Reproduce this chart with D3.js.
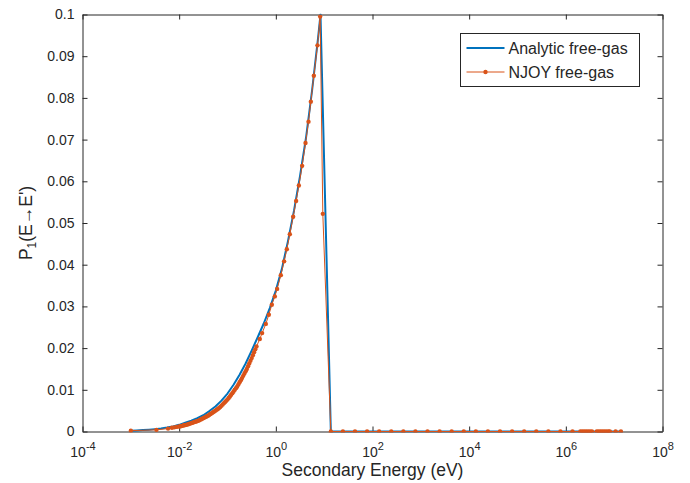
<!DOCTYPE html>
<html>
<head>
<meta charset="utf-8">
<script src="https://cdn.jsdelivr.net/npm/d3@7"></script>
<style>
  body { margin: 0; background: #fff; }
  text { font-family: "Liberation Sans", Arial, Helvetica, sans-serif; fill: #262626; }
  .axis path, .axis line { stroke: #262626; stroke-width: 1; }
</style>
</head>
<body>
<div id="chartDiv"></div>
<script>
// Data
const analyticE = [1.0e-3, 1.334e-3, 1.778e-3, 2.371e-3, 3.162e-3, 4.217e-3, 5.623e-3, 7.499e-3,
  0.01, 0.01334, 0.01778, 0.02371, 0.03162, 0.04217, 0.05623, 0.07499,
  0.1, 0.1334, 0.1778, 0.2371, 0.3162, 0.4217, 0.5623, 0.7499,
  1.0, 1.334, 1.778, 2.371, 3.162, 4.217, 5.623, 7.499, 8.395, 13.74, 1.5e7];
const analyticP = [0.0002, 0.00026, 0.00034, 0.00044, 0.00057, 0.00073, 0.00094, 0.0012,
  0.0016, 0.0021, 0.0026, 0.0032, 0.0039, 0.0049, 0.0060, 0.0074,
  0.0091, 0.0112, 0.0136, 0.0163, 0.0194, 0.0226, 0.0259, 0.0296,
  0.0338, 0.0390, 0.0456, 0.0529, 0.0612, 0.0705, 0.0818, 0.0945, 0.1000, 0, 0];

const njoyE = [1.0e-3, 3.39e-3, 5.89e-3, 7.08e-3, 7.94e-3, 8.91e-3,
  0.01000, 0.01059, 0.01122, 0.01189, 0.01259, 0.01334, 0.01413, 0.01496,
  0.01585, 0.01679, 0.01778, 0.01884, 0.01995, 0.02113, 0.02239, 0.02371,
  0.02512, 0.02661, 0.02818, 0.02985, 0.03162, 0.03350, 0.03548, 0.03758,
  0.03981, 0.04217, 0.04467, 0.04732, 0.05012, 0.05309, 0.05623, 0.05957,
  0.06310, 0.06683, 0.07079, 0.07499, 0.07943, 0.08414, 0.08913, 0.09441,
  0.1000, 0.1059, 0.1122, 0.1189, 0.1259, 0.1334, 0.1413, 0.1496,
  0.1585, 0.1679, 0.1778, 0.1884, 0.1995, 0.2113, 0.2239, 0.2371,
  0.2512, 0.2661, 0.2818, 0.2985, 0.3162, 0.3350, 0.3548, 0.3758, 0.3981,
  0.4656, 0.520, 0.621, 0.716, 0.826, 0.953, 1.064, 1.268, 1.483, 1.687, 1.945,
  2.280, 2.630, 2.992, 3.499, 4.111, 4.742, 5.297, 6.109, 7.278, 8.260, 9.376, 13.74,
  24.43, 43.45, 77.27, 137.4, 244.3, 434.5, 772.7, 1374, 2443, 4345, 7727,
  1.374e4, 2.443e4, 4.345e4, 7.727e4, 1.374e5, 2.443e5, 4.345e5, 7.727e5, 1.374e6,
  2.0e6, 2.19e6, 2.4e6, 2.63e6, 2.88e6, 3.16e6, 3.47e6,
  4.37e6, 4.79e6, 5.25e6, 5.75e6, 6.31e6, 6.92e6, 7.59e6, 8.13e6, 1.07e7, 1.38e7];
const njoyP = [0.0002, 0.0004, 0.0007, 0.0009, 0.0010, 0.0011,
  0.00120, 0.00125, 0.00130, 0.00140, 0.00150, 0.00155, 0.00160, 0.00170,
  0.00180, 0.00190, 0.00200, 0.00210, 0.00220, 0.00230, 0.00240, 0.00250,
  0.00260, 0.00275, 0.00290, 0.00305, 0.00320, 0.00335, 0.00350, 0.00365,
  0.00380, 0.00400, 0.00420, 0.00440, 0.00460, 0.00480, 0.00500, 0.00520,
  0.00540, 0.00565, 0.00590, 0.00620, 0.00650, 0.00680, 0.00710, 0.00740,
  0.00770, 0.00805, 0.00840, 0.00880, 0.00920, 0.00960, 0.01000, 0.01040,
  0.01080, 0.01130, 0.01180, 0.01230, 0.01280, 0.01335, 0.01390, 0.01445,
  0.01500, 0.01565, 0.01630, 0.01695, 0.01760, 0.01830, 0.01900, 0.01970, 0.02040,
  0.0222, 0.0236, 0.0258, 0.0280, 0.0304, 0.0324, 0.0342, 0.0375, 0.0408, 0.0437, 0.0473,
  0.0515, 0.0553, 0.0590, 0.0637, 0.0692, 0.0743, 0.0791, 0.0853, 0.0926, 0.0995, 0.0522, 0,
  0, 0, 0, 0, 0, 0, 0, 0, 0, 0, 0,
  0, 0, 0, 0, 0, 0, 0, 0, 0,
  0, 0, 0, 0, 0, 0, 0,
  0, 0, 0, 0, 0, 0, 0, 0, 0, 0];

const seriesNames = ['Analytic free-gas', 'NJOY free-gas'];
const xTickVals = [1e-4, 1e-2, 1e0, 1e2, 1e4, 1e6, 1e8];
const xTickExps = ['-4', '-2', '0', '2', '4', '6', '8'];
const yTickVals = [0, 0.01, 0.02, 0.03, 0.04, 0.05, 0.06, 0.07, 0.08, 0.09, 0.1];
const yTickLabels = ['0', '0.01', '0.02', '0.03', '0.04', '0.05', '0.06', '0.07', '0.08', '0.09', '0.1'];

// Build Variables
const vars = {
  width: 690, height: 483,
  margin: { left: 82.5, right: 27.5, top: 14.5, bottom: 51.5 },
  blue: '#0072BD', orange: '#D95319'
};
const w = vars.width - vars.margin.left - vars.margin.right;
const h = vars.height - vars.margin.top - vars.margin.bottom;

let svg = d3.select('#chartDiv').append('svg')
  .attr('width', vars.width).attr('height', vars.height);
let gObj = svg.append('g').attr('transform', `translate(${vars.margin.left},${vars.margin.top})`);

svg.append('defs').append('clipPath').attr('id', 'plotClip')
  .append('rect').attr('x', -1).attr('y', -1).attr('width', w + 2).attr('height', h + 2);

// scales
const xScale = d3.scaleLog().domain([1e-4, 1e8]).range([0, w]);
const yScale = d3.scaleLinear().domain([0, 0.1]).range([h, 0]);

// axes, ticks point inward like matlab
const xAxis = d3.axisBottom(xScale).tickValues(xTickVals).tickSizeInner(-5).tickSizeOuter(0).tickFormat('');
const xAxisTop = d3.axisTop(xScale).tickValues(xTickVals).tickSizeInner(-5).tickSizeOuter(0).tickFormat('');
const yAxis = d3.axisLeft(yScale).tickValues(yTickVals).tickSizeInner(-5).tickSizeOuter(0).tickPadding(8)
  .tickFormat((d, i) => yTickLabels[i]);
const yAxisRight = d3.axisRight(yScale).tickValues(yTickVals).tickSizeInner(-5).tickSizeOuter(0).tickFormat('');

const xAxisG = gObj.append('g').attr('class', 'axis').attr('transform', `translate(0,${h})`).call(xAxis);
gObj.append('g').attr('class', 'axis').call(xAxisTop);
const yAxisG = gObj.append('g').attr('class', 'axis').call(yAxis);
gObj.append('g').attr('class', 'axis').attr('transform', `translate(${w},0)`).call(yAxisRight);

// 10^n labels with superscripts
xAxisG.selectAll('.tick text').each(function(d, i) {
  const t = d3.select(this).text(null)
    .attr('y', 25.5).attr('dy', null)
    .style('font-size', '14px').attr('fill', '#262626');
  t.append('tspan').text('10');
  t.append('tspan').attr('dy', -7).style('font-size', '11px').text(xTickExps[i]);
});
yAxisG.selectAll('.tick text').style('font-size', '14px').attr('fill', '#262626');

// lines
const plotG = gObj.append('g').attr('clip-path', 'url(#plotClip)');
const analyticData = d3.zip(analyticE, analyticP);
const njoyData = d3.zip(njoyE, njoyP);
const line = d3.line().x(d => xScale(d[0])).y(d => yScale(d[1]));

plotG.append('path').datum(analyticData)
  .attr('d', line).attr('fill', 'none')
  .attr('stroke', vars.blue).attr('stroke-width', 2).attr('stroke-linejoin', 'round');
plotG.append('path').datum(njoyData)
  .attr('d', line).attr('fill', 'none')
  .attr('stroke', vars.orange).attr('stroke-width', 1);
plotG.selectAll('circle').data(njoyData).enter().append('circle')
  .attr('cx', d => xScale(d[0])).attr('cy', d => yScale(d[1]))
  .attr('r', 2.2).attr('fill', vars.orange);

// axis labels
svg.append('text')
  .attr('x', vars.margin.left + w / 2).attr('y', 476)
  .attr('text-anchor', 'middle').style('font-size', '17.5px')
  .text('Secondary Energy (eV)');

const yLab = svg.append('text')
  .attr('transform', `translate(32,${vars.margin.top + h / 2}) rotate(-90)`)
  .attr('text-anchor', 'middle').style('font-size', '17.5px');
yLab.append('tspan').text('P');
yLab.append('tspan').attr('dy', 4).style('font-size', '12px').text('1');
yLab.append('tspan').attr('dy', -4).text('(E\u2192E\')');

// legend
const legend = svg.append('g').attr('transform', 'translate(460.5,33.5)');
legend.append('rect').attr('width', 179).attr('height', 53)
  .attr('fill', '#fff').attr('stroke', '#262626').attr('stroke-width', 1);
const legColors = [vars.blue, vars.orange];
const legItems = legend.selectAll('.legItem').data(seriesNames).enter().append('g')
  .attr('class', 'legItem')
  .attr('transform', (d, i) => `translate(0,${14.5 + i * 24})`);
legItems.append('line').attr('x1', 6).attr('x2', 44).attr('y1', 0).attr('y2', 0)
  .attr('stroke', (d, i) => legColors[i]).attr('stroke-width', (d, i) => i === 0 ? 2 : 1);
legItems.filter((d, i) => i === 1).append('circle').attr('cx', 25).attr('cy', 0).attr('r', 2.2).attr('fill', vars.orange);
legItems.append('text').attr('x', 48).attr('y', 0).attr('dy', '0.36em')
  .style('font-size', '16px').text(d => d);
</script>
</body>
</html>
